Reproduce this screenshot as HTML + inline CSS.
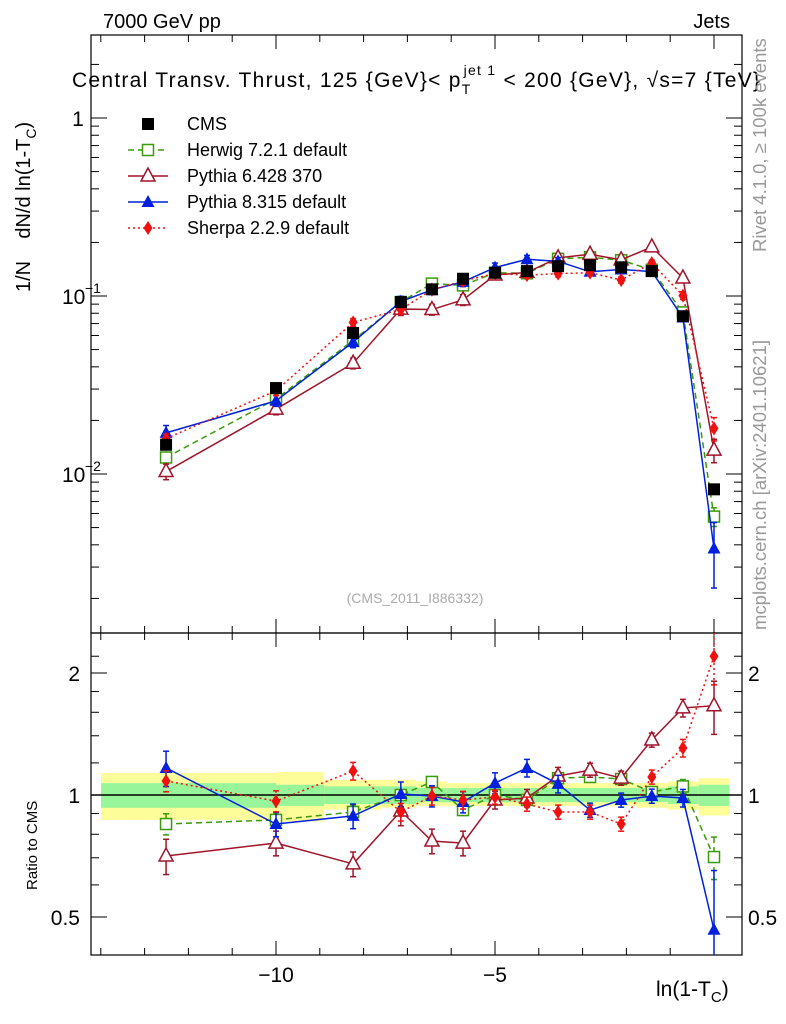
<!DOCTYPE html>
<html><head><meta charset="utf-8">
<style>
body{margin:0;background:#fff;}
svg{display:block;font-family:"Liberation Sans",sans-serif;}
</style></head>
<body>
<svg id="c" width="786" height="1024" xmlns="http://www.w3.org/2000/svg"></svg>
<script>
const xVals=[-12.51,-10.0,-8.24,-7.15,-6.44,-5.73,-5.0,-4.27,-3.56,-2.83,-2.12,-1.42,-0.71,0.0];
const cmsVals=[0.0146,0.0304,0.062,0.0925,0.109,0.125,0.135,0.138,0.147,0.149,0.145,0.138,0.077,0.0082];
const herwigRatio=[0.848,0.868,0.908,1.0,1.077,0.918,1.0,0.972,1.10,1.108,1.095,1.017,1.05,0.703];
const py6Ratio=[0.707,0.761,0.676,0.913,0.770,0.761,0.972,0.983,1.114,1.152,1.101,1.367,1.64,1.66];
const py8Ratio=[1.166,0.848,0.888,1.006,0.994,0.961,1.07,1.166,1.065,0.918,0.972,0.994,0.983,0.465];
const sherpaRatio=[1.083,0.966,1.146,0.908,0.994,0.972,0.989,0.95,0.908,0.908,0.848,1.108,1.306,2.20];
const herwigErr=[0.06,0.04,0.04,0.03,0.03,0.03,0.03,0.03,0.03,0.03,0.03,0.03,0.04,0.12];
const py6Err=[0.1,0.07,0.07,0.08,0.07,0.07,0.05,0.05,0.05,0.04,0.04,0.04,0.05,0.15];
const py8Err=[0.1,0.07,0.07,0.07,0.06,0.06,0.06,0.05,0.05,0.04,0.04,0.04,0.05,0.4];
const sherpaErr=[0.06,0.06,0.05,0.05,0.05,0.05,0.04,0.04,0.04,0.04,0.04,0.04,0.05,0.15];
const bandEdges=[-14.0,-10.0,-8.9,-7.6,-6.8,-6.1,-5.35,-4.65,-3.9,-3.2,-2.5,-1.75,-1.05,-0.35,0.35];
const yelUp=[1.133,1.14,1.09,1.09,1.08,1.07,1.07,1.07,1.07,1.07,1.07,1.07,1.08,1.10];
const yelDn=[0.868,0.86,0.92,0.93,0.94,0.94,0.94,0.94,0.94,0.94,0.94,0.93,0.92,0.89];
const grnUp=[1.07,1.06,1.05,1.05,1.04,1.04,1.04,1.04,1.04,1.04,1.04,1.04,1.05,1.06];
const grnDn=[0.93,0.94,0.95,0.95,0.96,0.96,0.96,0.96,0.96,0.96,0.96,0.96,0.95,0.94];
const xTickLabels=[-10,-5];

const svg=document.getElementById('c');
const NS='http://www.w3.org/2000/svg';
function el(tag,attrs,parent){const e=document.createElementNS(NS,tag);for(const k in attrs)e.setAttribute(k,attrs[k]);(parent||svg).appendChild(e);return e;}
const L=91,R=742,T=35,M=633,B=955;
const X=v=>714+v*43.8;
const Y=v=>118-Math.log10(v)*178;
const RY=r=>795-Math.log2(r)*122;
const cl=(y,a,b)=>Math.max(a,Math.min(b,y));

for(let i=0;i<yelUp.length;i++){
  const x1=Math.max(L+10,X(bandEdges[i])),x2=Math.min(R-12,X(bandEdges[i+1]));
  const y=el('rect',{x:x1,y:RY(yelUp[i]),width:x2-x1,height:RY(yelDn[i])-RY(yelUp[i]),fill:'#fdfd9a'});
  
  
  const g=el('rect',{x:x1,y:RY(grnUp[i]),width:x2-x1,height:RY(grnDn[i])-RY(grnUp[i]),fill:'#99f599'});
  
  
}
const one=el('line',{x1:L,x2:R,y1:RY(1),y2:RY(1),stroke:'#000','stroke-width':1.5});



const f1=el('rect',{x:L,y:T,width:R-L,height:M-T,fill:'none',stroke:'#000','stroke-width':1.2});

const f2=el('rect',{x:L,y:M,width:R-L,height:B-M,fill:'none',stroke:'#000','stroke-width':1.2});


for(let v=-14;v<=0;v++){
  const x=X(v);const maj=(v%5===0);const len=maj?14:7;
  el('line',{x1:x,x2:x,y1:M,y2:M-len,stroke:'#000'});
  el('line',{x1:x,x2:x,y1:M,y2:M+len,stroke:'#000'});
  el('line',{x1:x,x2:x,y1:B,y2:B-len,stroke:'#000'});
  el('line',{x1:x,x2:x,y1:T,y2:T+len,stroke:'#000'});
}
xTickLabels.forEach(v=>{const t=el('text',{x:X(v),y:982,'font-size':21,'text-anchor':'middle'});t.textContent='\u2212'+Math.abs(v);
});

for(let d=-3;d<=0;d++){for(let m=1;m<=9;m++){const v=m*Math.pow(10,d);const y=Y(v);if(y<T||y>M)continue;const len=m===1?16:8;
  el('line',{x1:L,x2:L+len,y1:y,y2:y,stroke:'#000'});el('line',{x1:R,x2:R-len,y1:y,y2:y,stroke:'#000'});}}
[[1,'1'],[0.1,'10'],[0.01,'10']].forEach(([v,s],i)=>{const t=el('text',{x:i===0?78:62,y:Y(v)+8,'font-size':21,'text-anchor':i===0?'middle':'start'});
t.textContent=s;
if(i>0){const e=el('text',{x:85,y:Y(v)-3,'font-size':14});e.textContent=i===1?'\u22121':'\u22122';}});

[0.5,0.6,0.7,0.8,0.9,1,1.2,1.4,1.6,1.8,2,2.2].forEach(v=>{const y=RY(v);if(y<M||y>B)return;const maj=(v===0.5||v===1||v===2);const len=maj?16:8;
  el('line',{x1:L,x2:L+len,y1:y,y2:y,stroke:'#000'});el('line',{x1:R,x2:R-len,y1:y,y2:y,stroke:'#000'});});
[[2,'2'],[1,'1'],[0.5,'0.5']].forEach(([v,s])=>{[[80,'end'],[748,'start']].forEach(([x,a])=>{const t=el('text',{x:x,y:RY(v)+8,'font-size':21,'text-anchor':a});t.textContent=s;
});});

const series=[
 {name:'herwig',r:herwigRatio,e:herwigErr,col:'#3a9a0a',dash:'6,4',m:'osq'},
 {name:'pythia6',r:py6Ratio,e:py6Err,col:'#a0142a',dash:'',m:'otri'},
 {name:'pythia8',r:py8Ratio,e:py8Err,col:'#0020e0',dash:'',m:'tri'},
 {name:'sherpa',r:sherpaRatio,e:sherpaErr,col:'#f01010',dash:'2,3',m:'dia'}];
function marker(type,x,y,col,name){
  let e;
  if(type==='sq') e=el('rect',{x:x-6,y:y-6,width:12,height:12,fill:col});
  else if(type==='osq') e=el('rect',{x:x-5.5,y:y-5.5,width:11,height:11,fill:'#fff',stroke:col,'stroke-width':1.5});
  else if(type==='otri') e=el('polygon',{points:`${x},${y-8} ${x-7},${y+5} ${x+7},${y+5}`,fill:'#fff',stroke:col,'stroke-width':1.5});
  else if(type==='tri') e=el('polygon',{points:`${x},${y-7} ${x-6.5},${y+5} ${x+6.5},${y+5}`,fill:col});
  else e=el('polygon',{points:`${x},${y-7} ${x-4.5},${y} ${x},${y+7} ${x+4.5},${y}`,fill:col});
  
  
}
series.forEach(s=>{
  const ptsMain=[],ptsR=[];
  xVals.forEach((xv,i)=>{ptsMain.push([X(xv),Y(cmsVals[i]*s.r[i])]);ptsR.push([X(xv),RY(s.r[i])]);});
  [[ptsMain,'main'],[ptsR,'ratio']].forEach(([pts,pn])=>{
    const p=el('polyline',{points:pts.map(p=>p.join(',')).join(' '),fill:'none',stroke:s.col,'stroke-width':1.5,'stroke-dasharray':s.dash});
    
  });
  xVals.forEach((xv,i)=>{
    const x=X(xv);
    const v=cmsVals[i]*s.r[i];
    [[Y(v*(1+s.e[i])),Y(Math.max(v*(1-s.e[i]),1e-4)),T,M],[RY(s.r[i]*(1+s.e[i])),RY(Math.max(s.r[i]*(1-s.e[i]),0.3)),M,B]].forEach(([a0,b0,lo,hi])=>{
      const a=cl(a0,lo,hi),b=cl(b0,lo,hi);
      el('line',{x1:x,x2:x,y1:a,y2:b,stroke:s.col,'stroke-width':1.5,'stroke-dasharray':s.dash});
      if(a0>lo)el('line',{x1:x-3,x2:x+3,y1:a,y2:a,stroke:s.col,'stroke-width':1.5});
      if(b0<hi)el('line',{x1:x-3,x2:x+3,y1:b,y2:b,stroke:s.col,'stroke-width':1.5});
    });
    marker(s.m,x,Y(v),s.col,s.name+'-point');
    const ry=RY(s.r[i]);if(ry>M&&ry<B)marker(s.m,x,ry,s.col,s.name+'-ratio-point');
  });
});
xVals.forEach((xv,i)=>marker('sq',X(xv),Y(cmsVals[i]),'#000','cms-point'));

const leg=[['CMS','#000','','sq'],['Herwig 7.2.1 default','#3a9a0a','6,4','osq'],['Pythia 6.428 370','#a0142a','','otri'],['Pythia 8.315 default','#0020e0','','tri'],['Sherpa 2.2.9 default','#f01010','2,3','dia']];
leg.forEach((l,i)=>{const y=124+i*26;
  if(i>0){const ln=el('line',{x1:128,x2:168,y1:y,y2:y,stroke:l[1],'stroke-width':1.5,'stroke-dasharray':l[2]});}
  marker(l[3],148,y,l[1],'legend-marker');
  const t=el('text',{x:187,y:y+6,'font-size':18});t.textContent=l[0];});

function txt(x,y,s,size,attrs,name){const t=el('text',Object.assign({x:x,y:y,'font-size':size},attrs||{}));t.textContent=s;return t;}
txt(103,28,'7000 GeV pp',20,{},'header-left');
txt(730,28,'Jets',20,{'text-anchor':'end'},'header-right');
const ti=el('text',{x:72,y:87,'font-size':21,textLength:688,lengthAdjust:'spacing'});
ti.innerHTML='Central Transv. Thrust, 125 {GeV}&lt; p<tspan dy="7" font-size="14">T</tspan><tspan dy="-19" dx="-8" font-size="14">jet 1</tspan><tspan dy="12"> &lt; 200 {GeV}, √s=7 {TeV}</tspan>';
txt(415,603,'(CMS_2011_I886332)',14,{'text-anchor':'middle',fill:'#aaa'},'analysis-id');
const yl=el('text',{x:0,y:0,'font-size':20,transform:'translate(30,292) rotate(-90)'});
yl.innerHTML='1/N &#160;&#160; dN/d ln(1-T<tspan dy="6" font-size="14">C</tspan><tspan dy="-6">)</tspan>';
txt(0,0,'Ratio to CMS',15,{transform:'translate(37,890) rotate(-90)'},'ratio-axis-title');
const xl=el('text',{x:656,y:996,'font-size':21});
xl.innerHTML='ln(1-T<tspan dy="6" font-size="15">C</tspan><tspan dy="-6">)</tspan>';
txt(0,0,'Rivet 4.1.0, ≥ 100k events',18.5,{transform:'translate(766,252) rotate(-90)',fill:'#999'},'rivet-label');
txt(0,0,'mcplots.cern.ch [arXiv:2401.10621]',18.5,{transform:'translate(766,630) rotate(-90)',fill:'#999'},'mcplots-label');
</script>
</body></html>
